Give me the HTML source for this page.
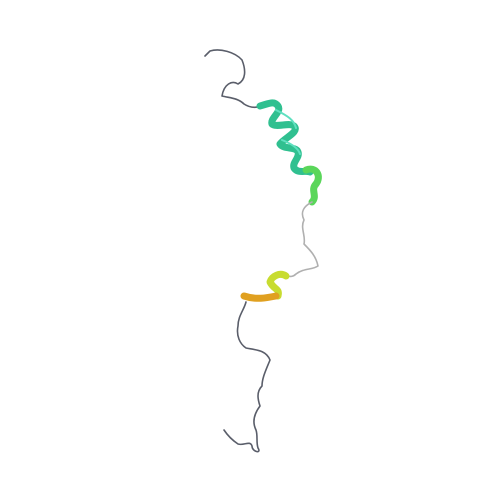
<!DOCTYPE html>
<html><head><meta charset="utf-8"><style>body{margin:0;background:#fff}svg{display:block}</style></head>
<body>
<svg width="500" height="500" viewBox="0 0 500 500">
<rect width="500" height="500" fill="#fff"/>
<g fill="none" stroke-linecap="round" stroke-linejoin="round">
<path stroke="#5a5e6a" stroke-width="1.6" d="M205,56 L210,51 C220,48 235,52 242,60 C246,70 246,80 238,84 C232,80 224,84 222,96 C230,98 238,98 244,104 C250,108 256,108 262,106"/>
<path stroke="#30c090" stroke-width="7" d="M260,106 C268,104 274,100 278,106 C282,112 270,118 272,124 C276,128 290,122 294,126 C300,132 284,138 280,144 C284,150 296,146 298,152 C300,158 292,162 294,168 C298,174 306,170 310,172"/>
<path stroke="#5fe0c0" stroke-width="2" d="M276,110 C288,116 294,120 296,128 M282,140 C292,144 298,148 300,154"/>
<path stroke="#5ad65a" stroke-width="7" d="M306,170 C316,166 322,176 316,184 C310,190 318,196 312,202"/>
<path stroke="#b0b0b0" stroke-width="1.6" d="M312,202 C304,206 300,212 304,220 C300,228 306,236 304,244 C310,250 316,256 318,266 C312,270 304,268 296,274 C292,278 288,276 284,276"/>
<path stroke="#c8dc30" stroke-width="7" d="M286,276 C280,272 272,276 270,282 C274,290 280,288 278,296"/>
<path stroke="#e0a020" stroke-width="7" d="M276,296 C266,298 256,300 244,296"/>
<path stroke="#5a5e6a" stroke-width="1.6" d="M246,302 C244,310 238,316 238,326 C236,336 240,344 246,348 C256,350 266,350 270,360 C266,370 262,378 262,386 C256,392 258,400 260,406 C254,414 252,422 256,430 C258,436 256,442 258,448 C262,454 252,452 252,446 C250,440 244,446 238,444 C232,440 228,436 224,430"/>
</g>
</svg>
</body></html>
